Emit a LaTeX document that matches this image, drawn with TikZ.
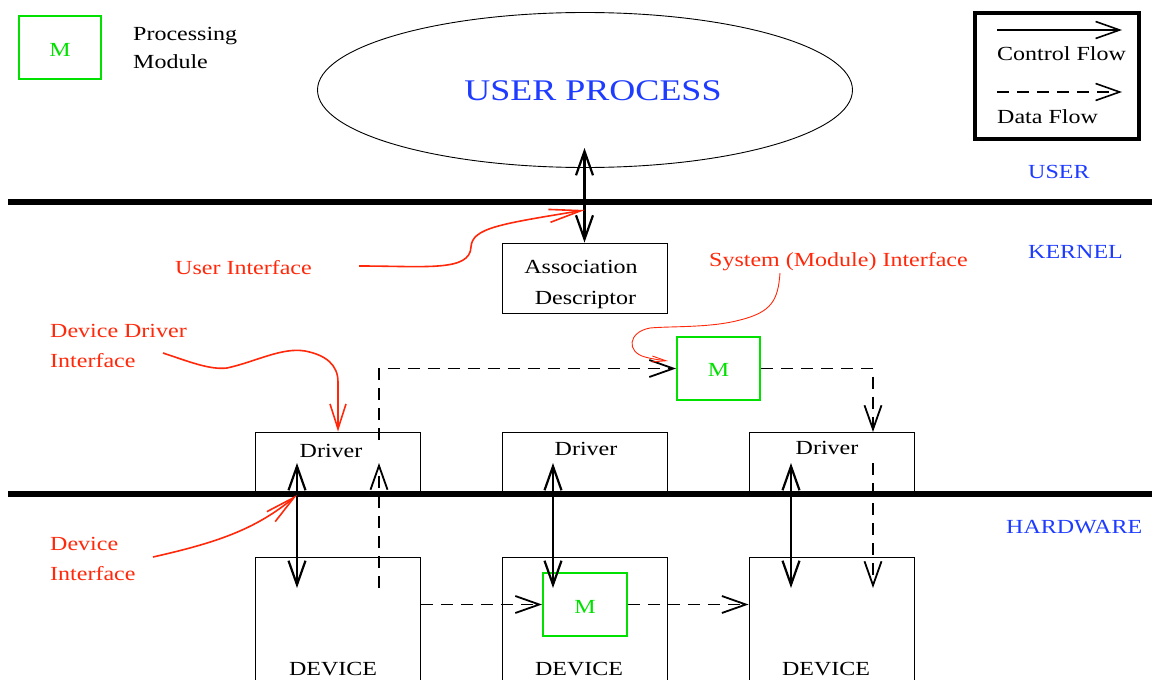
\documentclass[tikz,border=0pt]{standalone}
\usepackage{fontspec}
\setmainfont{Liberation Serif}[FakeStretch=1.2]
\usetikzlibrary{arrows.meta,shapes.geometric,calc}
\definecolor{modgreen}{RGB}{0,225,0}
\definecolor{notered}{RGB}{255,40,10}
\definecolor{layerblue}{RGB}{30,60,255}

\begin{document}
\begin{tikzpicture}[x=1pt,y=-1pt,
  every node/.style={font=\fontsize{20}{24}\selectfont, inner sep=0pt},
  >={Straight Barb[length=24pt,width=17pt]},
  box/.style={draw, line width=0.9pt, rectangle, minimum width=165pt},
  module/.style={draw=modgreen, line width=2pt, rectangle, minimum width=83pt, minimum height=63pt},
  modtext/.style={text=modgreen, anchor=base},
  ctrl/.style={->, line width=2.2pt},
  ctrlboth/.style={<->, line width=2.2pt},
  data/.style={->, line width=1.8pt, dash pattern=on 12pt off 8pt},
  note/.style={draw=notered, line width=1.6pt},
  notetext/.style={text=notered, anchor=base west},
  layer/.style={text=layerblue, anchor=base west},
  level/.style={line width=6.5pt}
]
\useasboundingbox (0,0) rectangle (1152,680);

% ---------- legend: processing module ----------
\node[module, minimum width=82pt] (legm) at (60,47.5) {};
\node[modtext] (legmt) at (60,56) {M};
\node[anchor=base west] (legp) at (133,40) {Processing};
\node[anchor=base west] (legmod) at (133,68) {Module};

% ---------- legend: flow kinds ----------
\node[draw, line width=3.5pt, minimum width=164pt, minimum height=126pt] (flowbox) at (1057,76) {};
\coordinate (cfa) at (997,30);
\coordinate (cfb) at (1122,30);
\draw[ctrl, line width=1.6pt] (cfa) -- (cfb);
\node[anchor=base west] (cft) at (997,60) {Control Flow};
\coordinate (dfa) at (997,92);
\coordinate (dfb) at (1122,92);
\draw[data, line width=1.6pt] (dfa) -- (dfb);
\node[anchor=base west] (dft) at (997,123) {Data Flow};

% ---------- user process ----------
\node[draw, ellipse, line width=0.9pt, minimum width=535pt, minimum height=155pt] (uproc) at (585,90) {};
\node[text=layerblue, anchor=base, font=\fontsize{30}{36}\selectfont] (uproct) at (593,100) {USER PROCESS};

% ---------- protection levels ----------
\draw[level] (8,202) -- (1152,202);
\draw[level] (8,494) -- (1152,494);
\node[layer] (luser) at (1028,178.5) {USER};
\node[layer] (lkernel) at (1028,258) {KERNEL};
\node[layer] (lhw) at (1006,533) {HARDWARE};

% ---------- association descriptor ----------
\node[box, minimum height=70pt] (assoc) at (584.5,278) {};
\node[anchor=base] (assoct1) at (581,273) {Association};
\node[anchor=base] (assoct2) at (585.5,304) {Descriptor};
\coordinate (upin) at (584.5,148);
\draw[ctrlboth] (upin) -- (assoc.north);

% ---------- drivers ----------
\node[box, minimum height=62pt] (drv1) at (338,463) {};
\node[box, minimum height=62pt] (drv2) at (584.5,463) {};
\node[box, minimum height=62pt] (drv3) at (831.5,463) {};
\node[anchor=base] (drv1t) at (331,457) {Driver};
\node[anchor=base] (drv2t) at (586,455) {Driver};
\node[anchor=base] (drv3t) at (827,454) {Driver};

% ---------- devices ----------
\node[box, minimum height=143pt] (dev1) at (338,628.5) {};
\node[box, minimum height=143pt] (dev2) at (584.5,628.5) {};
\node[box, minimum height=143pt] (dev3) at (831.5,628.5) {};
\node[anchor=base] (dev1t) at (333,675) {DEVICE};
\node[anchor=base] (dev2t) at (579,675) {DEVICE};
\node[anchor=base] (dev3t) at (826,675) {DEVICE};

% ---------- processing modules ----------
\node[module] (mk) at (718.5,368.5) {};
\node[modtext] (mkt) at (718.5,376) {M};
\node[module, minimum width=84pt] (md) at (585,604.5) {};
\node[modtext] (mdt) at (585,613) {M};

% ---------- control flow driver <-> device ----------
\coordinate (c1a) at (297,463);  \coordinate (c1b) at (297,588);
\coordinate (c2a) at (553,463);  \coordinate (c2b) at (553,588);
\coordinate (c3a) at (791,463);  \coordinate (c3b) at (791,588);
\draw[ctrlboth] (c1a) -- (c1b);
\draw[ctrlboth] (c2a) -- (c2b);
\draw[ctrlboth] (c3a) -- (c3b);

% ---------- data flow ----------
\coordinate (d1low) at (379,588);
\coordinate (d1up) at (379,463);
\draw[data] (d1low) -- (d1up);
\coordinate (d1out) at (379,440);
\draw[data] (d1out) |- (mk.west);
\coordinate (d3in) at (873,432);
\draw[data] (mk.east) -| (d3in);
\coordinate (d3out) at (873,463);
\coordinate (d3low) at (873,588);
\draw[data] (d3out) -- (d3low);
\draw[data] (dev1.east |- md.west) -- (md.west);
\draw[data] (md.east) -- (dev3.west |- md.east);

% ---------- interface annotations ----------
\node[notetext] (uitext) at (175,274) {User Interface};
\coordinate (uifrom) at (359,266);
\coordinate (uito) at (585,210);
\draw[note, -{Straight Barb[length=32pt,width=13pt]}] (uifrom)
  .. controls (425,266) and (470,272) .. (471,247)
  .. controls (472,228) and (500,224) .. (uito);

\node[notetext] (sitext) at (709,266) {System (Module) Interface};
\coordinate (sifrom) at (780,273);
\coordinate (sito) at (668,361);
\draw[note, line width=0.9pt, -{Straight Barb[length=14pt,width=6pt]}] (sifrom)
  .. controls (778,300) and (772,312) .. (740,320)
  .. controls (710,328) and (672,326) .. (650,328)
  .. controls (628,332) and (626,352) .. (645,357)
  .. controls (652,359) and (660,360) .. (sito);

\node[notetext] (ddtext1) at (50,337) {Device Driver};
\node[notetext] (ddtext2) at (50,367) {Interface};
\coordinate (ddfrom) at (163,353);
\draw[note, -{Straight Barb[length=25pt,width=16pt]}] (ddfrom)
  .. controls (190,362) and (210,370) .. (227,368)
  .. controls (255,362) and (282,347) .. (305,351)
  .. controls (326,355) and (338,365) .. (338,382)
  -- (drv1.north -| 338,0);

\node[notetext] (ditext1) at (50,550) {Device};
\node[notetext] (ditext2) at (50,580) {Interface};
\coordinate (difrom) at (153,557);
\coordinate (dito) at (297,495);
\draw[note, -{Straight Barb[length=30pt,width=13pt]}] (difrom)
  .. controls (215,543) and (255,530) .. (dito);
\end{tikzpicture}
\end{document}
